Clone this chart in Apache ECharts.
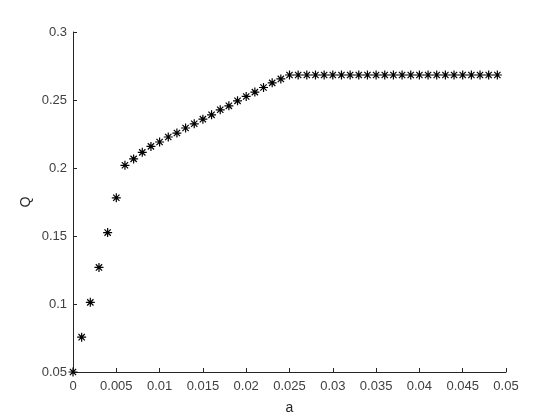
<!DOCTYPE html>
<html>
<head>
<meta charset="utf-8">
<script src="https://cdn.jsdelivr.net/npm/echarts@6/dist/echarts.min.js"></script>
<style>html,body{margin:0;padding:0;background:#fff;}#c{width:560px;height:420px;}</style>
</head>
<body>
<div id="c"></div>
<script>
var aValues = [0,0.001,0.002,0.003,0.004,0.005,0.006,0.007,0.008,0.009,0.010,0.011,0.012,0.013,0.014,0.015,0.016,0.017,0.018,0.019,0.020,0.021,0.022,0.023,0.024,0.025,0.026,0.027,0.028,0.029,0.030,0.031,0.032,0.033,0.034,0.035,0.036,0.037,0.038,0.039,0.040,0.041,0.042,0.043,0.044,0.045,0.046,0.047,0.048,0.049];
var qValues = [0.0500,0.0756,0.1012,0.1269,0.1525,0.1781,0.2020,0.2067,0.2115,0.2159,0.2191,0.2228,0.2257,0.2294,0.2325,0.2359,0.2391,0.2428,0.2457,0.2494,0.2526,0.2558,0.2592,0.2626,0.2655,
0.2684,0.2684,0.2684,0.2684,0.2684,0.2684,0.2684,0.2684,0.2684,0.2684,0.2684,0.2684,0.2684,0.2684,0.2684,0.2684,0.2684,0.2684,0.2684,0.2684,0.2684,0.2684,0.2684,0.2684,0.2684];
var xLabel = 'a';
var yLabel = 'Q';

var data = aValues.map(function(a, i){ return [a, qValues[i]]; });
var chart = echarts.init(document.getElementById('c'));
var axisColor = '#262626';
var font = 'Liberation Sans, Arial, sans-serif';
chart.setOption({
  animation: false,
  backgroundColor: '#fff',
  grid: {left: 73, right: 54, top: 32, bottom: 47, containLabel: false},
  xAxis: {
    type: 'value', min: 0, max: 0.05, interval: 0.005,
    name: xLabel, nameLocation: 'middle', nameGap: 29, nameMoveOverlap: false,
    nameTextStyle: {color: axisColor, fontSize: 14, fontFamily: font},
    axisLine: {show: true, onZero: false, lineStyle: {color: axisColor, width: 1}},
    axisTick: {show: true, inside: true, length: 4, lineStyle: {color: axisColor}},
    axisLabel: {color: '#404040', fontSize: 13, fontFamily: font, margin: 8},
    splitLine: {show: false}
  },
  yAxis: {
    type: 'value', min: 0.05, max: 0.3, interval: 0.05,
    name: yLabel, nameLocation: 'middle', nameGap: 40, nameMoveOverlap: false,
    nameTextStyle: {color: axisColor, fontSize: 14, fontFamily: font},
    axisLine: {show: true, onZero: false, lineStyle: {color: axisColor, width: 1}},
    axisTick: {show: true, inside: true, length: 4, lineStyle: {color: axisColor}},
    axisLabel: {color: '#404040', fontSize: 13, fontFamily: font, margin: 6},
    splitLine: {show: false}
  },
  series: [{
    type: 'scatter',
    data: data,
    symbol: 'path://M5,0 L5,10 M0,5 L10,5 M1.5,1.5 L8.5,8.5 M1.5,8.5 L8.5,1.5',
    symbolSize: 9,
    itemStyle: {color: 'rgba(0,0,0,0)', borderColor: '#000', borderWidth: 1.2, opacity: 1},
    clip: false
  }]
});
</script>
</body>
</html>
